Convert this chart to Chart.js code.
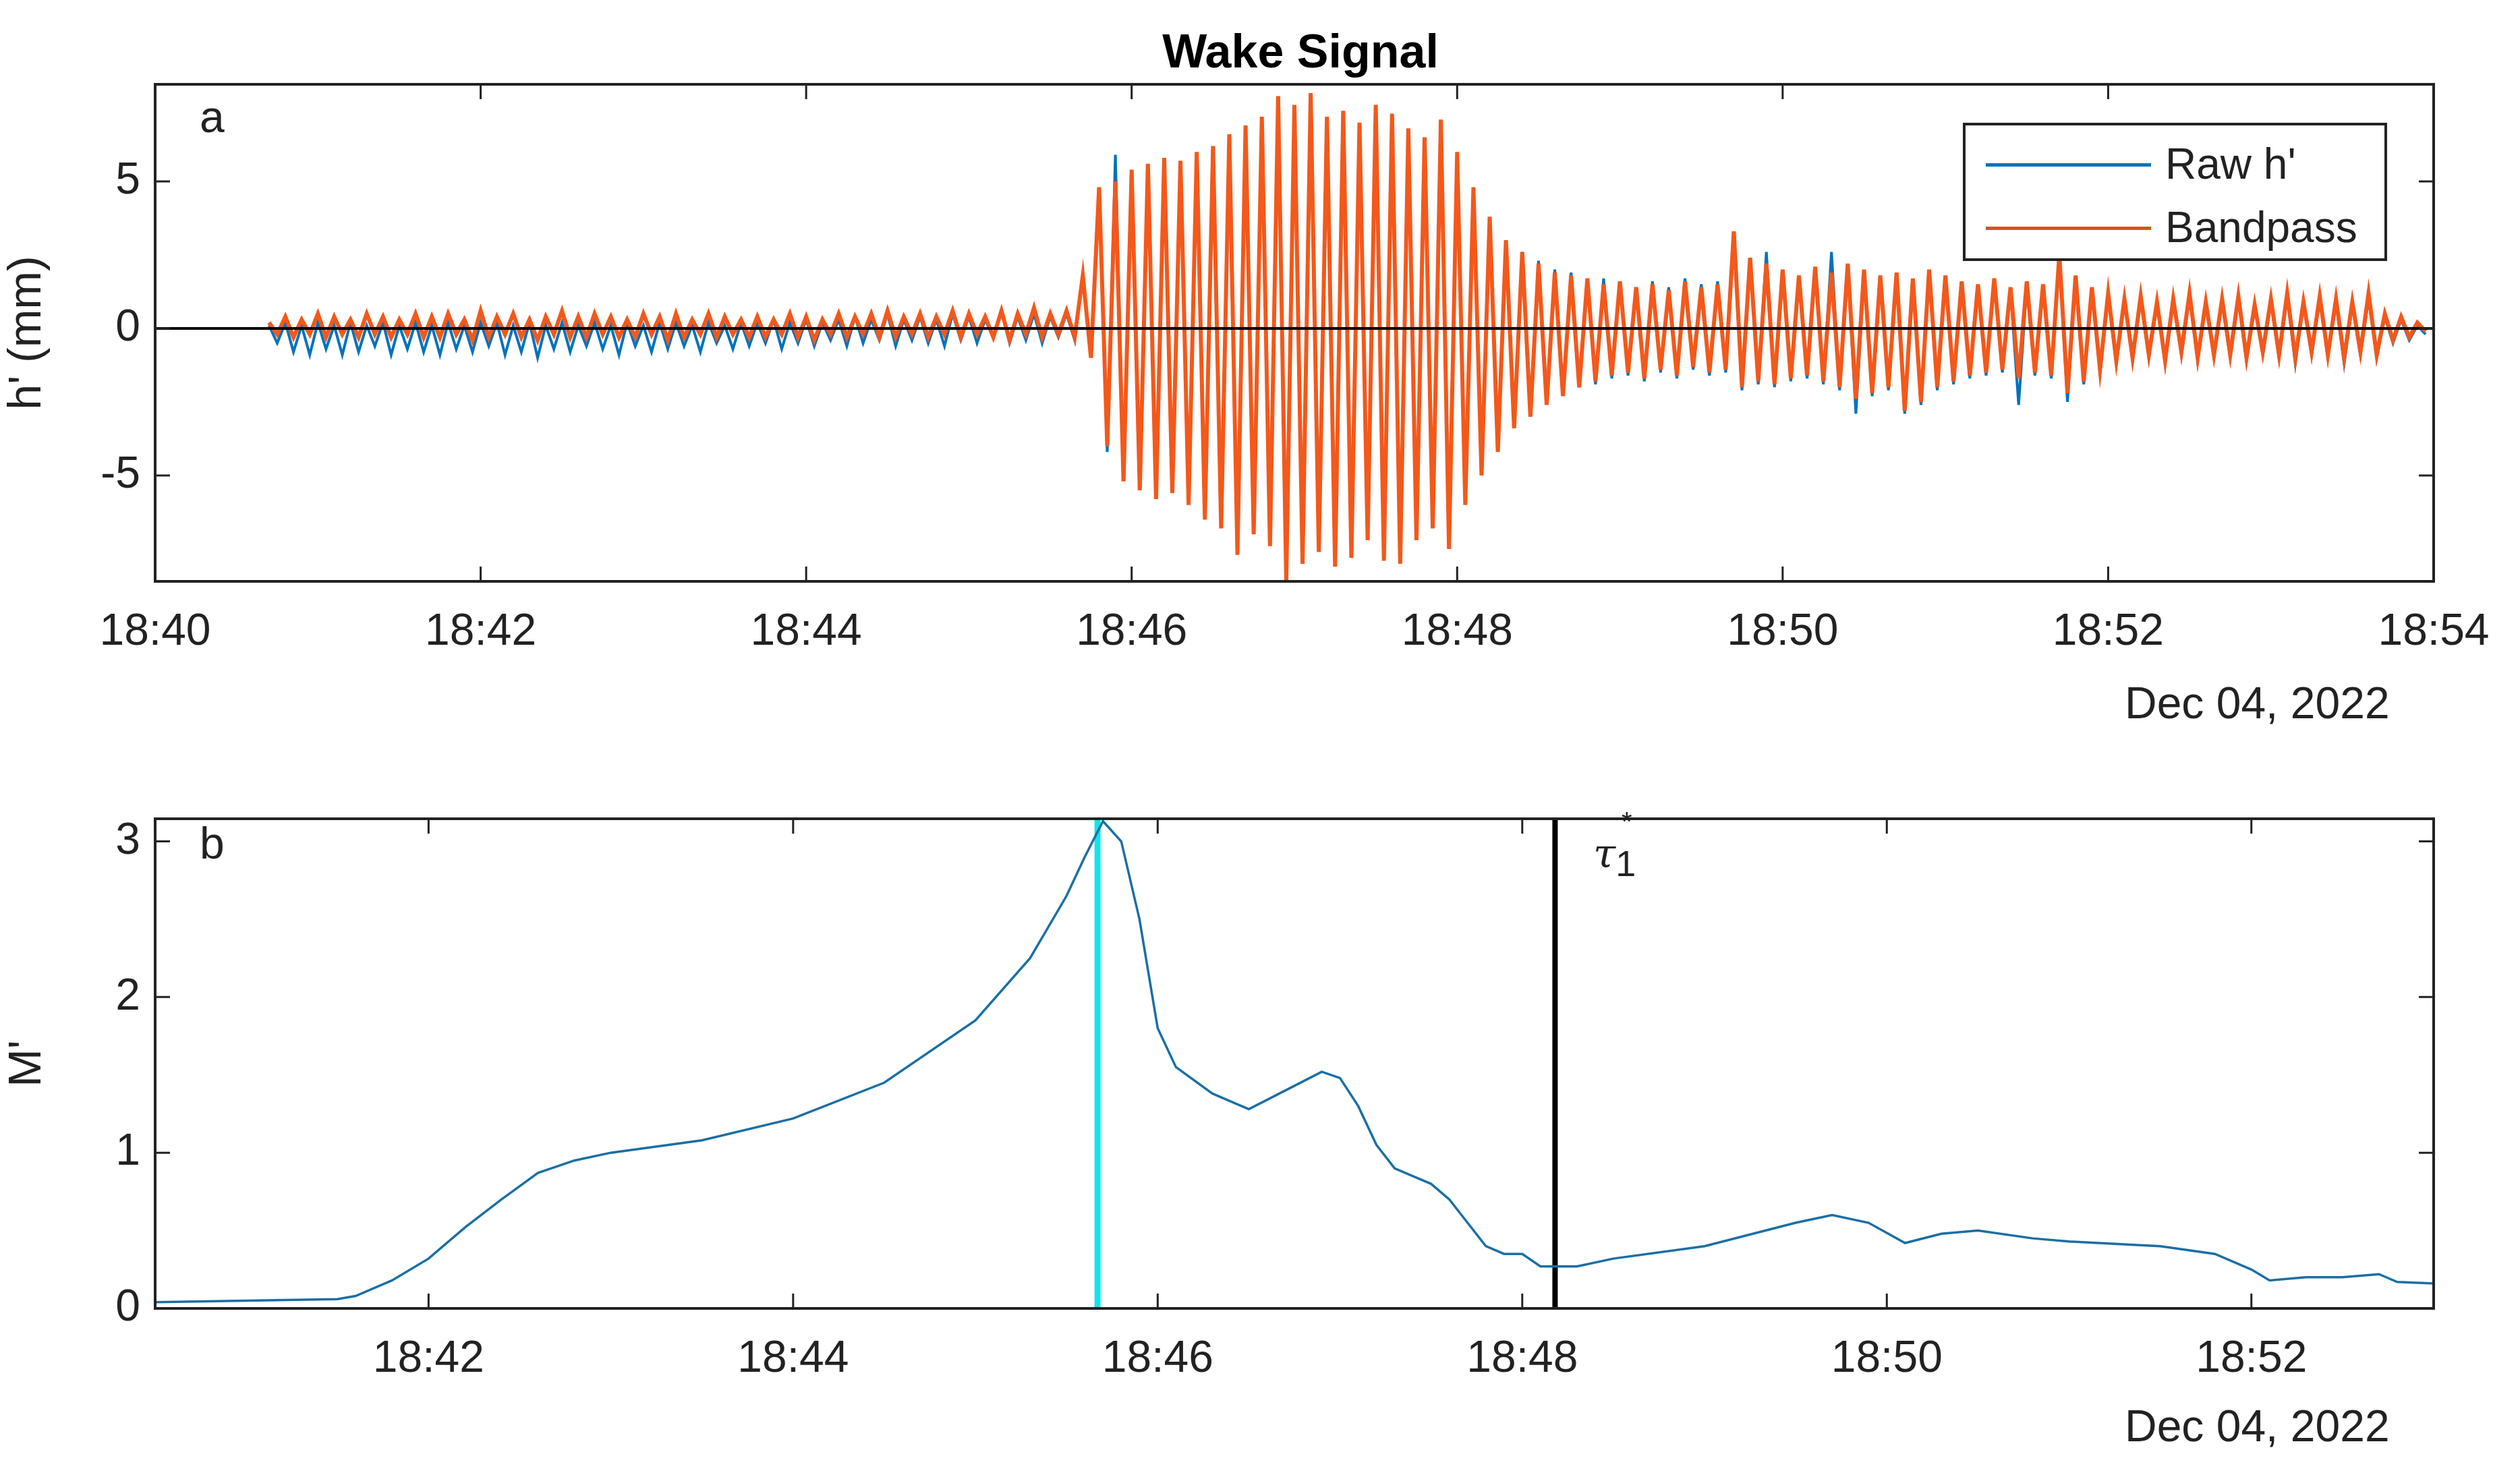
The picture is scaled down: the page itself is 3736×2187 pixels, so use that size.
<!DOCTYPE html>
<html>
<head>
<meta charset="utf-8">
<script src="https://cdn.jsdelivr.net/npm/chart.js@4"></script>
<style>
  body { margin: 0; width: 3736px; height: 2187px; background: #fff; position: relative; overflow: hidden; font-family: "Liberation Sans", Arial, sans-serif; }
  canvas { position: absolute; left: 0; }
  .txt { position: absolute; color: #222; font-size: 64px; white-space: nowrap; }
</style>
</head>
<body>
<canvas id="topChart" width="3736" height="1100" style="top:0"></canvas>
<canvas id="botChart" width="3736" height="1087" style="top:1100px"></canvas>

<div class="txt" style="left:0;width:3856px;top:36px;text-align:center;font-size:70px;font-weight:bold;color:#000">Wake Signal</div>
<div class="txt" style="left:296px;top:135px;font-size:66px">a</div>
<div class="txt" style="left:296px;top:1212px;font-size:66px">b</div>
<div class="txt" style="left:3150px;top:1004px;font-size:66px">Dec 04, 2022</div>
<div class="txt" style="left:3150px;top:2076px;font-size:66px">Dec 04, 2022</div>
<div class="txt" style="left:2362px;top:1230px;font-style:italic;font-family:'DejaVu Serif',serif;font-size:60px">τ<sub style="font-style:normal;font-family:'Liberation Sans';font-size:54px">1</sub></div>
<div class="txt" style="left:2404px;top:1196px;font-size:40px">*</div>

<!-- legend -->
<div style="position:absolute;left:2910px;top:182px;width:621px;height:197px;border:4px solid #222;background:#fff">
  <div style="position:absolute;left:30px;top:56px;width:245px;height:5px;background:#0072BD"></div>
  <div class="txt" style="left:296px;top:20px">Raw h'</div>
  <div style="position:absolute;left:30px;top:150px;width:245px;height:5px;background:#D95319"></div>
  <div class="txt" style="left:296px;top:114px">Bandpass</div>
</div>

<script>
// Panel a: envelope peaks / troughs read every 0.1 min from 18:40.7 to 18:53.9
const startMin = 40.7;
const stepMin = 0.1;

const bpHi = [
  0.2,0.4,0.3,0.5,0.4,0.3,0.5,0.4,0.3,0.5,
  0.4,0.5,0.3,0.6,0.4,0.5,0.3,0.4,0.6,0.4,
  0.5,0.4,0.3,0.5,0.4,0.5,0.3,0.5,0.4,0.3,
  0.4,0.3,0.5,0.4,0.3,0.5,0.4,0.5,0.6,0.4,
  0.5,0.4,0.6,0.5,0.4,0.6,0.5,0.7,0.5,0.6,
  1.8,4.8,5.0,5.4,5.6,5.8,5.7,6.0,6.2,6.6,
  6.9,7.2,7.9,7.6,8.0,7.2,7.4,7.0,7.6,7.3,
  6.8,6.5,7.1,6.0,4.8,3.8,3.0,2.6,2.2,1.9,
  1.8,1.7,1.5,1.6,1.4,1.5,1.3,1.6,1.4,1.5,
  3.3,2.4,2.2,2.0,1.8,2.1,1.9,2.2,2.0,1.8,
  1.9,1.7,2.0,1.8,1.6,1.5,1.7,1.4,1.6,1.5,
  2.5,1.8,1.4,1.2,1.0,1.1,0.9,1.0,1.2,0.9,
  1.0,1.1,0.8,1.0,1.2,0.9,1.1,1.0,0.9,1.2,
  0.5,0.4,0.2
];
const bpLo = [
  -0.2,-0.3,-0.2,-0.3,-0.2,-0.3,-0.2,-0.3,-0.2,-0.3,
  -0.3,-0.2,-0.4,-0.3,-0.2,-0.3,-0.4,-0.2,-0.3,-0.3,
  -0.2,-0.3,-0.3,-0.2,-0.4,-0.3,-0.2,-0.3,-0.2,-0.3,
  -0.3,-0.2,-0.3,-0.4,-0.2,-0.3,-0.2,-0.3,-0.3,-0.2,
  -0.3,-0.2,-0.3,-0.2,-0.3,-0.4,-0.2,-0.3,-0.2,-0.3,
  -1.0,-4.0,-5.2,-5.5,-5.8,-5.6,-6.0,-6.5,-6.8,-7.7,
  -7.0,-7.4,-8.6,-8.0,-7.6,-8.1,-7.8,-7.2,-7.9,-8.0,
  -7.2,-6.8,-7.5,-6.0,-5.0,-4.2,-3.4,-3.0,-2.6,-2.3,
  -2.0,-1.8,-1.6,-1.5,-1.7,-1.4,-1.6,-1.3,-1.5,-1.4,
  -2.0,-1.8,-1.9,-1.7,-1.6,-1.8,-2.0,-2.4,-2.2,-2.0,
  -2.8,-2.5,-2.0,-1.8,-1.6,-1.5,-1.4,-1.7,-1.5,-1.6,
  -2.2,-1.8,-1.4,-1.1,-1.0,-0.9,-1.1,-0.8,-1.0,-0.9,
  -0.9,-1.0,-0.8,-0.9,-1.0,-0.8,-0.9,-1.0,-0.8,-0.9,
  -0.4,-0.3,-0.1
];
const rawHi = [
  0.1,0.2,0.1,0.2,0.1,0.2,0.1,0.2,0.1,0.2,
  0.1,0.2,0.1,0.2,0.2,0.1,0.2,0.1,0.2,0.1,
  0.2,0.1,0.2,0.1,0.2,0.2,0.1,0.2,0.1,0.2,
  0.2,0.3,0.2,0.3,0.2,0.3,0.4,0.3,0.5,0.3,
  0.4,0.3,0.5,0.4,0.3,0.6,0.4,0.5,0.4,0.5,
  1.8,4.6,5.9,5.3,5.5,5.6,5.6,5.8,6.0,6.4,
  6.8,7.0,7.8,7.4,7.9,7.0,7.2,6.9,7.4,7.1,
  6.6,6.3,6.9,5.8,4.6,3.6,2.9,2.6,2.3,2.0,
  1.9,1.6,1.7,1.5,1.4,1.6,1.4,1.7,1.5,1.6,
  3.0,2.3,2.6,1.9,1.7,2.0,2.6,2.0,1.8,1.7,
  1.8,1.6,1.9,1.7,1.5,1.4,1.6,1.3,1.5,1.4,
  2.4,1.7,1.3,1.1,1.0,1.0,0.9,1.0,1.1,0.9,
  0.9,1.0,0.8,0.9,1.1,0.9,1.0,0.9,0.8,1.0,
  0.4,0.3,0.1
];
const rawLo = [
  -0.5,-0.8,-0.9,-0.7,-0.9,-0.8,-0.6,-0.9,-0.7,-0.8,
  -0.9,-0.7,-0.8,-0.6,-0.9,-0.8,-1.0,-0.7,-0.8,-0.6,
  -0.7,-0.9,-0.6,-0.8,-0.7,-0.6,-0.8,-0.5,-0.7,-0.6,
  -0.5,-0.7,-0.5,-0.6,-0.4,-0.6,-0.5,-0.4,-0.6,-0.4,
  -0.5,-0.6,-0.4,-0.5,-0.3,-0.5,-0.4,-0.5,-0.3,-0.4,
  -0.8,-4.2,-5.0,-5.3,-5.6,-5.4,-5.8,-6.3,-6.6,-7.4,
  -6.8,-7.2,-8.3,-7.8,-7.4,-7.9,-7.6,-7.0,-7.7,-7.8,
  -7.0,-6.6,-7.3,-5.8,-4.8,-4.0,-3.2,-2.8,-2.5,-2.2,
  -2.0,-1.9,-1.7,-1.6,-1.8,-1.5,-1.7,-1.4,-1.6,-1.5,
  -2.1,-1.9,-2.0,-1.8,-1.7,-1.9,-2.1,-2.9,-2.3,-2.1,
  -2.9,-2.6,-2.1,-1.9,-1.7,-1.6,-1.5,-2.6,-1.6,-1.7,
  -2.5,-1.9,-1.5,-1.2,-1.1,-1.0,-1.2,-0.9,-1.1,-1.0,
  -1.0,-1.1,-0.9,-1.0,-1.2,-0.9,-1.0,-1.2,-0.9,-1.0,
  -0.5,-0.4,-0.2
];

// Panel b: M' curve
const mTimes = [40.5,41.0,41.5,41.6,41.8,42.0,42.2,42.4,42.6,42.8,43.0,43.5,44.0,44.5,45.0,45.3,45.5,45.6,45.7,45.8,45.9,46.0,46.1,46.3,46.5,46.7,46.9,47.0,47.1,47.2,47.3,47.4,47.5,47.6,47.7,47.8,47.9,48.0,48.1,48.3,48.5,49.0,49.5,49.7,49.9,50.1,50.3,50.5,50.8,51.0,51.5,51.8,52.0,52.1,52.3,52.5,52.7,52.8,53.0];
const mVals  = [0.04,0.05,0.06,0.08,0.18,0.32,0.52,0.70,0.87,0.95,1.00,1.08,1.22,1.45,1.85,2.25,2.65,2.90,3.13,3.00,2.50,1.80,1.55,1.38,1.28,1.40,1.52,1.48,1.30,1.05,0.90,0.85,0.80,0.70,0.55,0.40,0.35,0.35,0.27,0.27,0.32,0.40,0.55,0.60,0.55,0.42,0.48,0.50,0.45,0.43,0.40,0.35,0.25,0.18,0.20,0.20,0.22,0.17,0.16];
const peakTime = 45.67;
const tauTime = 48.18;

const topTicks = [40,42,44,46,48,50,52,54];
const botTicks = [42,44,46,48,50,52];

function zigzag(hi, lo) {
  const pts = [];
  hi.forEach((h, i) => {
    const t = startMin + stepMin * i;
    pts.push({ x: t, y: h });
    pts.push({ x: t + stepMin / 2, y: lo[i] });
  });
  return pts;
}

function fmt(v) { return "18:" + String(v).padStart(2, "0"); }

// MATLAB-style box with inward ticks
const boxPlugin = {
  id: "box",
  afterDraw(chart) {
    const { ctx, chartArea: a, scales } = chart;
    ctx.save();
    ctx.strokeStyle = "#222";
    ctx.lineWidth = 4;
    ctx.strokeRect(a.left, a.top, a.right - a.left, a.bottom - a.top);
    ctx.lineWidth = 3;
    const L = 22;
    scales.x.ticks.forEach((t) => {
      const px = scales.x.getPixelForValue(t.value);
      ctx.beginPath();
      ctx.moveTo(px, a.bottom); ctx.lineTo(px, a.bottom - L);
      ctx.moveTo(px, a.top); ctx.lineTo(px, a.top + L);
      ctx.stroke();
    });
    scales.y.ticks.forEach((t) => {
      const py = scales.y.getPixelForValue(t.value);
      ctx.beginPath();
      ctx.moveTo(a.left, py); ctx.lineTo(a.left + L, py);
      ctx.moveTo(a.right, py); ctx.lineTo(a.right - L, py);
      ctx.stroke();
    });
    ctx.restore();
  },
};

const font = { family: "'Liberation Sans', Arial, sans-serif", size: 66 };

function axes(xmin, xmax, xticks, ymin, ymax, yticks, ytitle, xh) {
  return {
    x: {
      type: "linear", min: xmin, max: xmax,
      grid: { display: false, drawTicks: false }, border: { display: false },
      afterBuildTicks: (s) => { s.ticks = xticks.map((v) => ({ value: v })); },
      ticks: { font, color: "#222", padding: 36, maxRotation: 0, callback: fmt },
      afterFit: (s) => { s.height = xh; },
    },
    y: {
      min: ymin, max: ymax,
      grid: { display: false, drawTicks: false }, border: { display: false },
      afterBuildTicks: (s) => { s.ticks = yticks.map((v) => ({ value: v })); },
      ticks: { font, color: "#222", padding: 22 },
      title: { display: true, text: ytitle, font: { ...font, size: 68 }, color: "#222", padding: { top: 0, bottom: 0 } },
      afterFit: (s) => { s.width = 230; },
    },
  };
}

new Chart(document.getElementById("topChart"), {
  type: "line",
  data: {
    datasets: [
      { data: [{ x: 40, y: 0 }, { x: 54, y: 0 }], borderColor: "#000", borderWidth: 4, order: 0 },
      { data: zigzag(bpHi, bpLo), borderColor: "#f4581a", borderWidth: 6, order: 1 },
      { data: zigzag(rawHi, rawLo), borderColor: "#0072BD", borderWidth: 4, order: 2 },
    ],
  },
  options: {
    responsive: false, animation: false,
    elements: { point: { radius: 0 }, line: { tension: 0 } },
    plugins: { legend: { display: false }, tooltip: { enabled: false } },
    layout: { padding: { left: 0, right: 128, top: 125, bottom: 0 } },
    scales: axes(40, 54, topTicks, -8.6, 8.3, [-5, 0, 5], "h' (mm)", 238),
  },
  plugins: [boxPlugin],
});

new Chart(document.getElementById("botChart"), {
  type: "line",
  data: {
    datasets: [
      { data: mTimes.map((t, i) => ({ x: t, y: mVals[i] })), borderColor: "#1a6fa5", borderWidth: 3.5 },
      { data: [{ x: peakTime, y: 0 }, { x: peakTime, y: 3.15 }], borderColor: "#14e3ee", borderWidth: 9 },
      { data: [{ x: tauTime, y: 0 }, { x: tauTime, y: 3.15 }], borderColor: "#000", borderWidth: 8 },
    ],
  },
  options: {
    responsive: false, animation: false,
    elements: { point: { radius: 0 }, line: { tension: 0 } },
    plugins: { legend: { display: false }, tooltip: { enabled: false } },
    layout: { padding: { left: 0, right: 128, top: 114, bottom: 0 } },
    scales: axes(40.5, 53.0, botTicks, 0, 3.145, [0, 1, 2, 3], "M'", 247),
  },
  plugins: [boxPlugin],
});
</script>
</body>
</html>
